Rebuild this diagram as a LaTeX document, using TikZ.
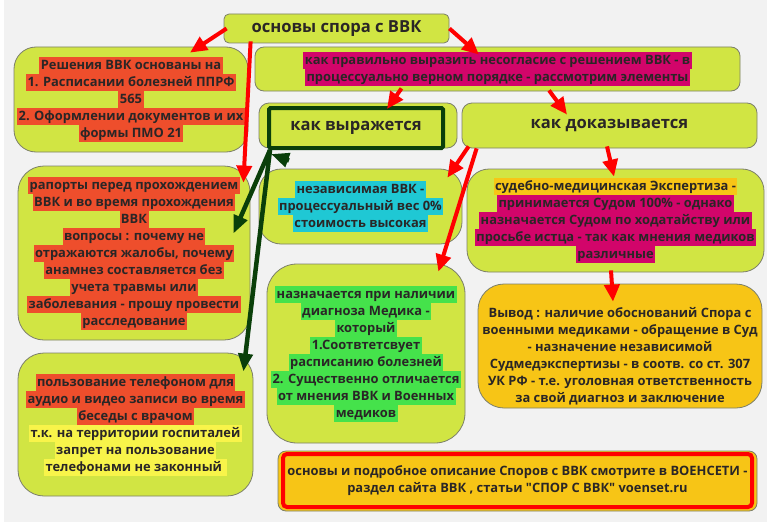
\documentclass[tikz,border=0pt]{standalone}
\usepackage{fontspec}
\setmainfont{Open Sans}[Ligatures=TeXOff]
\usetikzlibrary{arrows.meta,calc}
\definecolor{lime}{HTML}{D1E543}
\definecolor{edge}{HTML}{7C7F6A}
\definecolor{ink}{HTML}{2A2626}
\definecolor{bg}{HTML}{F2F2F2}
\definecolor{gold}{HTML}{F7C516}
\definecolor{dkgreen}{HTML}{0A3F0A}
\definecolor{hlred}{HTML}{EE4E2C}
\definecolor{hlmag}{HTML}{D2056A}
\definecolor{hlcyan}{HTML}{1FC8D4}
\definecolor{hlgreen}{HTML}{45E24B}
\definecolor{hlyellow}{HTML}{F8F44A}
\setlength{\fboxsep}{0pt}
\newcommand{\hl}[2]{\colorbox{#1}{\rule[-4.5pt]{0pt}{17pt}\hspace{1.5pt}#2\hspace{1.5pt}}}

\begin{document}
\begin{tikzpicture}[x=1pt,y=-1pt,
    card/.style={draw=edge,fill=lime,line width=0.8pt,rounded corners=#1,inner sep=0pt,
      font=\fontsize{12.9}{17}\selectfont\bfseries,text=ink,align=center},
    card/.default=22pt,
    head/.style={font=\fontsize{16.6}{20}\selectfont\bfseries},
    redarrow/.style={-{Triangle[length=17pt,width=15pt]},line width=4pt,red},
    greenarrow/.style={-{Triangle[length=18pt,width=14pt]},line width=4.5pt,dkgreen}]
  % background
  \fill[white] (0,0) rectangle (767,527);
  \fill[bg] (4,0) rectangle (767,522);

  \node[card=5pt,head,minimum width=225,minimum height=29] (title) at (336.5,28.5) {основы спора с ВВК};
  \node[card,minimum width=234,minimum height=105] (osn) at (131,99.5)
    {\hl{hlred}{Решения ВВК основаны на}\\
     \hl{hlred}{1. Расписании болезней ППРФ}\\
     \hl{hlred}{565}\\
     \hl{hlred}{2. Оформлении документов и их}\\
     \hl{hlred}{формы ПМО 21}};
  \node[card=9pt,minimum width=485,minimum height=44] (kak) at (497.5,69)
    {\hl{hlmag}{как правильно выразить несогласие с решением ВВК - в}\\
     \hl{hlmag}{процессуально верном порядке - рассмотрим элементы}};
  \node[card=10pt,minimum width=198,minimum height=45] (wyrbg) at (358,125.5) {};
  \node[card=1.5pt,head,draw=dkgreen,line width=4pt,minimum width=174,minimum height=40] (wyr) at (356,128) {как выражется};
  \node[card=10pt,head,minimum width=295,minimum height=45] (dok) at (609.5,125.5) {как доказывается};

  \node[card=26pt,minimum width=232,minimum height=174] (rap) at (134,253)
    {\hl{hlred}{рапорты перед прохождением}\\
     \hl{hlred}{ВВК и во время прохождения}\\
     \hl{hlred}{ВВК}\\
     \hl{hlred}{вопросы : почему не}\\
     \hl{hlred}{отражаются жалобы, почему}\\
     \hl{hlred}{анамнез составляется без}\\
     \hl{hlred}{учета травмы или}\\
     \hl{hlred}{заболевания - прошу провести}\\
     \hl{hlred}{расследование}};
  \node[card,minimum width=203,minimum height=75] (nez) at (360.5,206.5)
    {\hl{hlcyan}{независимая ВВК -}\\
     \hl{hlcyan}{процессуальный вес 0\%}\\
     \hl{hlcyan}{стоимость высокая}};
  \node[card,minimum width=297,minimum height=103] (sud) at (615.5,220.5)
    {\hl{gold}{судебно-медицинская Экспертиза -}\\
     \hl{hlmag}{принимается Судом 100\% - однако}\\
     \hl{hlmag}{назначается Судом по ходатайству или}\\
     \hl{hlmag}{просьбе истца - так как мнения медиков}\\
     \hl{hlmag}{различные}};
  \node[card=30pt,minimum width=198,minimum height=179] (nazn) at (366,353.5)
    {\hl{hlgreen}{назначается при наличии}\\
     \hl{hlgreen}{диагноза Медика -}\\
     \hl{hlgreen}{который}\\
     \hl{hlgreen}{1.Соотвтетсвует}\\
     \hl{hlgreen}{расписанию болезней}\\
     \hl{hlgreen}{2. Существенно отличается}\\
     \hl{hlgreen}{от мнения ВВК и Военных}\\
     \hl{hlgreen}{медиков}};
  \node[card=26pt,fill=gold,minimum width=284,minimum height=124] (wyw) at (620,346) {};
  \node[card,draw=none,fill=none] (wywtxt) at ($(wyw.center)+(0,10)$)
    {Вывод : наличие обоснований Спора с\\
     военными медиками - обращение в Суд\\
     - назначение независимой\\
     Судмедэкспертизы - в соотв. со ст. 307\\
     УК РФ - т.е. уголовная ответственность\\
     за свой диагноз и заключение};
  \node[card=26pt,minimum width=235,minimum height=143] (tel) at (135.5,424.5)
    {\hl{hlred}{пользование телефоном для}\\
     \hl{hlred}{аудио и видео записи во время}\\
     \hl{hlred}{беседы с врачом}\\
     \hl{hlyellow}{т.к. на территории госпиталей}\\
     \hl{hlyellow}{запрет на пользование}\\
     \hl{hlyellow}{телефонами не законный }};
  \node[card=8pt,fill=gold,minimum width=479,minimum height=60] (istbg) at (517.5,481) {};
  \node[card=4pt,fill=gold,draw=red,line width=4pt,minimum width=469,minimum height=53] (ist) at (517.5,480.5)
    {основы и подробное описание Споров с ВВК смотрите в ВОЕНСЕТИ -\\
     раздел сайта ВВК , статьи "СПОР С ВВК" voenset.ru};

  % red connectors
  \draw[redarrow] ($(title.west)+(3,0)$) -- ($(osn.north)+(59,6)$);
  \draw[redarrow] ($(title.south west)+(27,-2)$) -- ($(rap.north east)+(-7,17)$);
  \draw[redarrow] (title.east) -- ($(kak.north)+(-18.5,8)$);
  \draw[redarrow] ($(kak.south)+(-96,-3)$) -- ($(wyr.north)+(31,3)$);
  \draw[redarrow] ($(kak.south)+(51.5,-1)$) -- ($(dok.north)+(-42.5,12)$);
  \draw[redarrow] ($(dok.south west)+(7,-2)$) -- ($(nez.north east)+(-15,9)$);
  \draw[redarrow] ($(dok.south west)+(15,0)$) -- ($(nazn.north east)+(-27,8)$);
  \draw[redarrow] ($(dok.south)+(-2.5,-2)$) -- ($(sud.north)+(-1.5,8)$);
  \draw[redarrow] ($(sud.south)+(-4.5,-2)$) -- ($(wyw.north)+(-7,18)$);
  % green connectors
  \draw[greenarrow] ($(wyr.south west)+(3,0)$) -- ($(rap.north east)+(-17,68)$);
  \draw[greenarrow] ($(wyr.south west)+(3,0)$) -- ($(tel.north east)+(-10,19)$);
  \draw[greenarrow] ($(wyr.south west)+(22,10.5)$) -- ($(wyr.south west)+(4,4)$);
\end{tikzpicture}
\end{document}
